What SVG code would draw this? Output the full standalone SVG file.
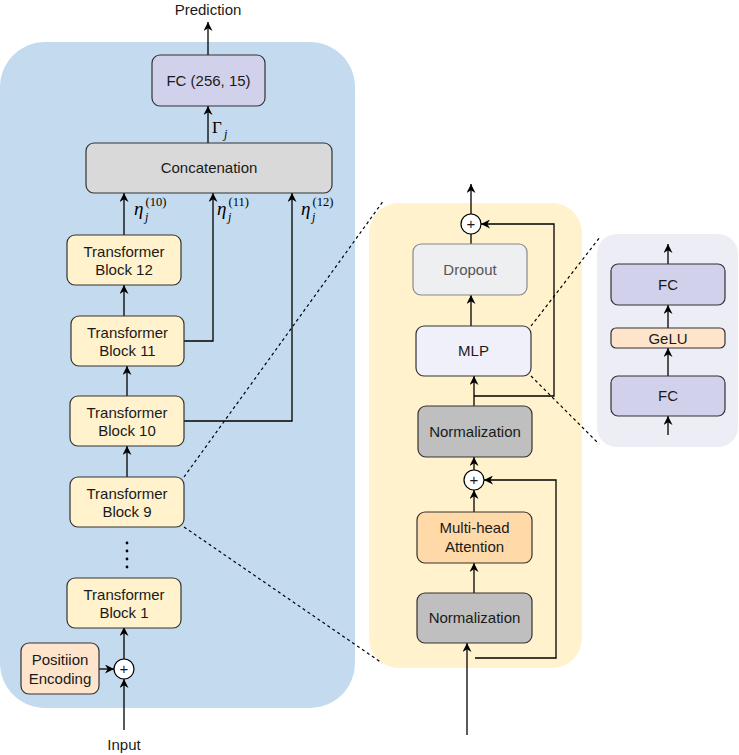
<svg xmlns="http://www.w3.org/2000/svg" width="739" height="755" viewBox="0 0 739 755">
<defs>
<marker id="arr" viewBox="0 0 10 10" refX="10" refY="5" markerWidth="9" markerHeight="9" markerUnits="userSpaceOnUse" orient="auto">
<path d="M0,0 L10,5 L0,10 L3,5 z" fill="#000"/>
</marker>
<style>
.t{font-family:"Liberation Sans",Arial,sans-serif;font-size:15px;fill:#1a1a1a;text-anchor:middle}
.m{font-family:"Liberation Serif","DejaVu Serif",serif;fill:#000}
.box{stroke:#333;stroke-width:1.2}
.tb{fill:#fff2cc}
.fc{fill:#d1d1eb}
.pe{fill:#ffe4cc}
.nm{fill:#bfbfbf}
.c{fill:none;stroke:#000;stroke-width:1.3}
.a{marker-end:url(#arr)}
.d{fill:none;stroke:#000;stroke-width:1.2;stroke-dasharray:3 3}
.p{fill:#fff;stroke:#000;stroke-width:1.2}
</style>
</defs>
<g id="panels">
<rect id="encoder-panel" x="0" y="42" width="355" height="666" rx="45" fill="#c4dbef"/>
<rect id="block-panel" x="369" y="203" width="213" height="465" rx="30" fill="#fff2cc"/>
<rect id="mlp-panel" x="597" y="234" width="141" height="213" rx="20" fill="#ededf5"/>
</g>
<g id="connectors">
<line class="c a" x1="208" y1="55" x2="208" y2="22"/>
<line class="c a" x1="208" y1="143" x2="208" y2="106"/>
<line class="c a" x1="124" y1="235" x2="124" y2="193"/>
<polyline class="c a" points="184,341 213,341 213,193"/>
<polyline class="c a" points="184,421 292,421 292,193"/>
<line class="c a" x1="124" y1="316" x2="124" y2="285"/>
<line class="c a" x1="127" y1="396" x2="127" y2="366"/>
<line class="c a" x1="127" y1="477" x2="127" y2="446"/>
<line class="c a" x1="124" y1="659" x2="124" y2="627"/>
<line class="c a" x1="124" y1="730" x2="124" y2="679"/>
<line class="c a" x1="99" y1="669" x2="114" y2="669"/>
<line class="d" x1="184" y1="477" x2="384" y2="200"/>
<line class="d" x1="184" y1="527" x2="382" y2="663"/>
<line class="c a" x1="471" y1="214" x2="471" y2="184"/>
<line class="c" x1="471" y1="244" x2="471" y2="234"/>
<line class="c a" x1="471" y1="326" x2="471" y2="295"/>
<polyline class="c a" points="474,396 554,396 554,224 481,224"/>
<line class="c a" x1="474" y1="406" x2="474" y2="376"/>
<line class="c a" x1="474" y1="470" x2="474" y2="457"/>
<polyline class="c a" points="475,658 556,658 556,480 484,480"/>
<line class="c a" x1="474" y1="512" x2="474" y2="490"/>
<line class="c a" x1="474" y1="593" x2="474" y2="563"/>
<line class="c a" x1="467" y1="735" x2="467" y2="643"/>
<line class="d" x1="531" y1="326" x2="600" y2="237"/>
<line class="d" x1="531" y1="376" x2="599" y2="444"/>
<line class="c a" x1="668" y1="264" x2="668" y2="244"/>
<line class="c a" x1="668" y1="328" x2="668" y2="305"/>
<line class="c a" x1="668" y1="376" x2="668" y2="348"/>
<line class="c a" x1="668" y1="435" x2="668" y2="416"/>
</g>
<g id="labels">
<text class="t" x="208" y="15">Prediction</text>
<text class="t" x="124" y="750">Input</text>
<text class="m" x="212" y="133" font-size="17">Γ</text>
<text class="m" x="224" y="138" font-size="12" font-style="italic">j</text>
<text class="m" x="134" y="215" font-size="19" font-style="italic">η</text>
<text class="m" x="145" y="221" font-size="12" font-style="italic">j</text>
<text class="m" x="145.5" y="206" font-size="12.5">(10)</text>
<text class="m" x="217" y="215" font-size="19" font-style="italic">η</text>
<text class="m" x="228" y="221" font-size="12" font-style="italic">j</text>
<text class="m" x="228.5" y="206" font-size="12.5">(11)</text>
<text class="m" x="301" y="215" font-size="19" font-style="italic">η</text>
<text class="m" x="312" y="221" font-size="12" font-style="italic">j</text>
<text class="m" x="312.5" y="206" font-size="12.5">(12)</text>
</g>
<g id="fc-out"><rect class="box fc" x="152" y="55" width="113" height="51" rx="8"/><text class="t" x="208.5" y="86">FC (256, 15)</text></g>
<g id="concat"><rect class="box" fill="#d9d9d9" x="86" y="143" width="246" height="50" rx="8"/><text class="t" x="209" y="173">Concatenation</text></g>
<g id="tb12"><rect class="box tb" x="67" y="235" width="114" height="50" rx="8"/><text class="t" x="124" y="257">Transformer</text><text class="t" x="124" y="275">Block 12</text></g>
<g id="tb11"><rect class="box tb" x="71" y="316" width="113" height="50" rx="8"/><text class="t" x="127.5" y="338">Transformer</text><text class="t" x="127.5" y="356">Block 11</text></g>
<g id="tb10"><rect class="box tb" x="70" y="396" width="114" height="50" rx="8"/><text class="t" x="127" y="418">Transformer</text><text class="t" x="127" y="436">Block 10</text></g>
<g id="tb9"><rect class="box tb" x="70" y="477" width="114" height="50" rx="8"/><text class="t" x="127" y="499">Transformer</text><text class="t" x="127" y="517">Block 9</text></g>
<g id="ellipsis" fill="#000"><circle cx="127" cy="543" r="1.4"/><circle cx="127" cy="551" r="1.4"/><circle cx="127" cy="559" r="1.4"/><circle cx="127" cy="567" r="1.4"/></g>
<g id="tb1"><rect class="box tb" x="67" y="578" width="114" height="50" rx="8"/><text class="t" x="124" y="600">Transformer</text><text class="t" x="124" y="618">Block 1</text></g>
<g id="pos-enc"><rect class="box pe" x="21" y="643" width="78" height="51" rx="8"/><text class="t" x="60" y="665">Positiion</text><text class="t" x="60" y="684">Encoding</text></g>
<g id="plus-in"><circle class="p" cx="124" cy="669" r="10"/><text class="t" x="124" y="673.5" font-size="13">+</text></g>
<g id="plus-top"><circle class="p" cx="471" cy="224" r="10"/><text class="t" x="471" y="228.5" font-size="13">+</text></g>
<g id="dropout"><rect x="413" y="244" width="114" height="51" rx="8" fill="#eeeff1" stroke="#888" stroke-width="1.2"/><text class="t" x="470" y="275" style="fill:#555">Dropout</text></g>
<g id="mlp"><rect class="box" fill="#f0f0fa" x="416" y="326" width="115" height="50" rx="8"/><text class="t" x="473.5" y="356">MLP</text></g>
<g id="norm1"><rect class="box nm" x="418" y="406" width="114" height="51" rx="8"/><text class="t" x="475" y="437">Normalization</text></g>
<g id="plus-mid"><circle class="p" cx="474" cy="480" r="10"/><text class="t" x="474" y="484.5" font-size="13">+</text></g>
<g id="mha"><rect class="box" fill="#ffd9a8" x="417" y="512" width="115" height="51" rx="8"/><text class="t" x="474.5" y="533">Multi-head</text><text class="t" x="474.5" y="552">Attention</text></g>
<g id="norm2"><rect class="box nm" x="417" y="593" width="115" height="50" rx="8"/><text class="t" x="474.5" y="623">Normalization</text></g>
<g id="fc2"><rect class="box fc" x="611" y="264" width="114" height="41" rx="7"/><text class="t" x="668" y="290">FC</text></g>
<g id="gelu"><rect class="box pe" x="611" y="328" width="114" height="20" rx="5"/><text class="t" x="668" y="343.5" font-size="14">GeLU</text></g>
<g id="fc1"><rect class="box fc" x="611" y="376" width="114" height="40" rx="7"/><text class="t" x="668" y="401">FC</text></g>
</svg>
